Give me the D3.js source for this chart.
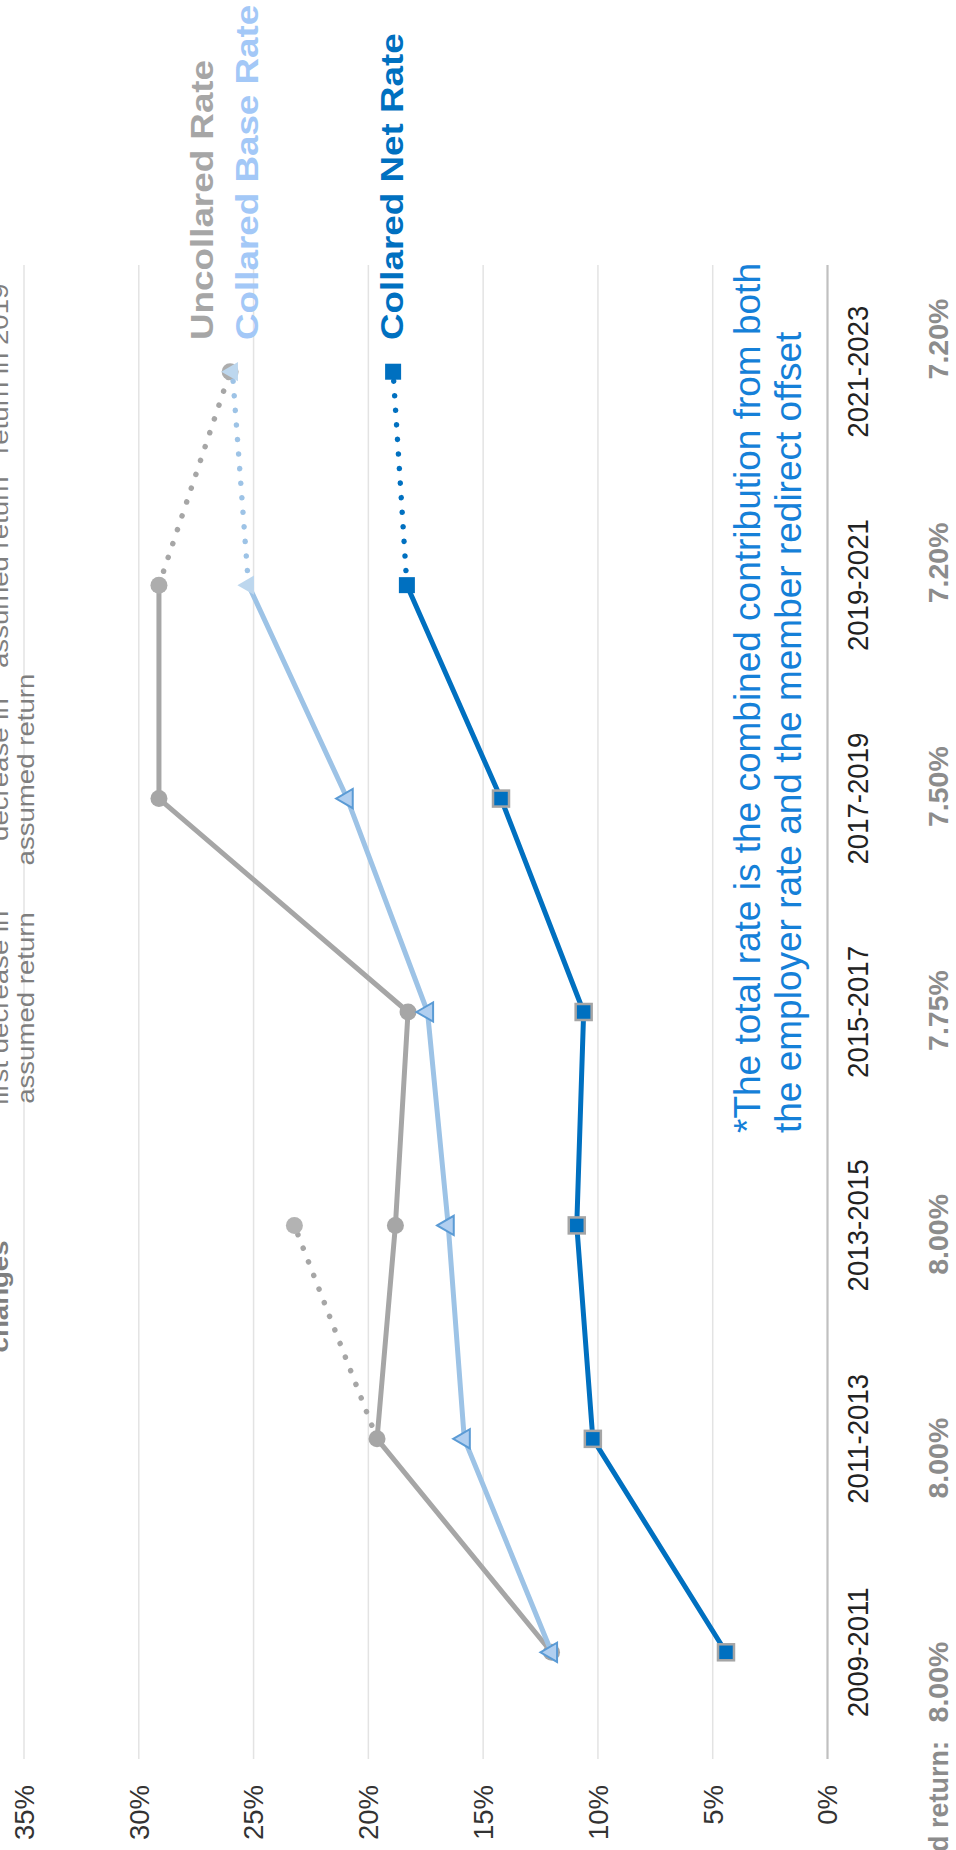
<!DOCTYPE html>
<html>
<head>
<meta charset="utf-8">
<script src="https://cdn.jsdelivr.net/npm/d3@7"></script>
<style>
  body { margin: 0; background: #fff; }
  svg { display: block; font-family: "Liberation Sans", Arial, sans-serif; }
</style>
</head>
<body>
<div id="chart"></div>
<script>

var periods = ["2009-2011", "2011-2013", "2013-2015", "2015-2017", "2017-2019", "2019-2021", "2021-2023"];
var uncollared   = [12.0, 19.6, 18.8, 18.25, 29.1, 29.1, 26.0];
var collaredBase = [12.0, 15.8, 16.5, 17.4, 20.9, 25.2, 25.9];
var collaredNet  = [4.4, 10.2, 10.9, 10.6, 14.2, 18.3, 18.9];
var altPeriods = ["2011-2013", "2013-2015"];
var uncollaredAlt = [19.6, 23.2];
var assumedReturn = ["8.00%", "8.00%", "8.00%", "7.75%", "7.50%", "7.20%", "7.20%"];
var yTicks = [0, 5, 10, 15, 20, 25, 30, 35];
var seriesNames = ["Uncollared Rate", "Collared Base Rate", "Collared Net Rate"];
var notePeriods = ["2013-2015", "2015-2017", "2017-2019", "2019-2021", "2021-2023"];
var noteLine1 = ["changes", "first decrease in", "decrease in", "assumed return", "return in 2019"];
var noteLine2 = ["", "assumed return", "assumed return", "", ""];
var footnote = ["*The total rate is the combined contribution from both",
                "the employer rate and the member redirect offset"];

// the chart is laid out landscape (W wide) and then turned a quarter turn
var W = 1850, H = 956;
var gray = "#a6a6a6", light = "#9dc3e6", dark = "#0070c0";

var svg = d3.select("#chart").append("svg")
    .attr("width", H)
    .attr("height", W);

var g = svg.append("g")
    .attr("transform", "translate(0," + W + ") rotate(-90)");

var x = d3.scaleBand().domain(periods).range([91, 1585]);
var cx = function(p) { return x(p) + x.bandwidth() / 2; };
var y = d3.scaleLinear().domain([0, 35]).range([827, 23.5]);
// the assumed return row is spaced a little wider than the plot
var xr = d3.scalePoint().domain(periods).range([168, 1511]);
var noteShift = [-71, 4, 29, 13, 3];

// grid + value labels
var yAxis = g.append("g")
    .attr("transform", "translate(91,0)")
    .call(d3.axisLeft(y).tickValues(yTicks).tickSize(-(1585 - 91)).tickPadding(26)
      .tickFormat(function(d) { return d + "%"; }));
yAxis.select(".domain").remove();
yAxis.selectAll("line")
    .attr("stroke", function(d) { return d === 0 ? "#c0c0c0" : "#e3e3e3"; })
    .attr("stroke-width", function(d) { return d === 0 ? 2.2 : 1.5; });
yAxis.selectAll("text")
    .style("font-size", "27.5px")
    .style("font-family", "Liberation Sans, Arial, sans-serif")
    .attr("fill", "#333")
    .attr("dy", "0.36em");

// period labels
var xAxis = g.append("g")
    .attr("transform", "translate(0,827)")
    .call(d3.axisBottom(x).tickSize(0));
xAxis.select(".domain").remove();
xAxis.selectAll("text")
    .style("font-size", "30px")
    .style("font-family", "Liberation Sans, Arial, sans-serif")
    .attr("fill", "#222")
    .attr("y", 41)
    .attr("dy", 0)
    .attr("transform", "scale(0.92,1)");

// assumed return row
g.append("text")
    .attr("x", 109).attr("y", 948)
    .attr("text-anchor", "end")
    .style("font-size", "27px").style("font-weight", "bold")
    .attr("fill", "#8c8c8c")
    .text("Assumed return:");

g.selectAll(".ret")
  .data(assumedReturn)
  .enter().append("text")
    .attr("class", "ret")
    .attr("x", function(d, i) { return xr(periods[i]); })
    .attr("y", 948)
    .attr("text-anchor", "middle")
    .style("font-size", "28.5px").style("font-weight", "bold")
    .attr("fill", "#8c8c8c")
    .text(function(d) { return d; });

// notes above the plot, mostly cut off by the page edge
var notes = g.selectAll(".note")
  .data(notePeriods)
  .enter().append("g")
    .attr("class", "note")
    .attr("transform", function(d, i) { return "translate(" + (cx(d) + noteShift[i]) + ",0) scale(1.2,1)"; });
notes.append("text")
    .attr("y", 8)
    .attr("text-anchor", "middle")
    .style("font-size", "23px")
    .style("font-weight", function(d, i) { return i === 0 ? "bold" : "normal"; })
    .attr("fill", "#7f7f7f")
    .text(function(d, i) { return noteLine1[i]; });
notes.append("text")
    .attr("y", 34)
    .attr("text-anchor", "middle")
    .style("font-size", "23px")
    .attr("fill", "#7f7f7f")
    .text(function(d, i) { return noteLine2[i]; });

function pts(vals, ps) {
  return vals.map(function(v, i) { return { p: (ps || periods)[i], v: v }; });
}

var line = d3.line()
    .x(function(d) { return cx(d.p); })
    .y(function(d) { return y(d.v); });

var tri = d3.symbol(d3.symbolTriangle, 160);

function solid(vals, color) {
  g.append("path")
      .datum(pts(vals).slice(0, 6))
      .attr("fill", "none")
      .attr("stroke", color)
      .attr("stroke-width", 5)
      .attr("stroke-linejoin", "round")
      .attr("d", line);
}

function dotted(data, color) {
  g.append("path")
      .datum(data)
      .attr("fill", "none")
      .attr("stroke", color)
      .attr("stroke-width", 5.5)
      .attr("stroke-linecap", "round")
      .attr("stroke-dasharray", "0.1,14.5")
      .attr("d", line);
}

function circles(data, fill) {
  g.selectAll(null).data(data).enter().append("circle")
      .attr("cx", function(d) { return cx(d.p); })
      .attr("cy", function(d) { return y(d.v); })
      .attr("r", 8.5)
      .attr("fill", fill);
}

function triangles(data, fill, stroke) {
  g.selectAll(null).data(data).enter().append("path")
      .attr("d", tri)
      .attr("transform", function(d) { return "translate(" + cx(d.p) + "," + y(d.v) + ")"; })
      .attr("fill", fill)
      .attr("stroke", stroke)
      .attr("stroke-width", stroke === "none" ? 0 : 2);
}

function squares(data, stroke) {
  g.selectAll(null).data(data).enter().append("rect")
      .attr("x", function(d) { return cx(d.p) - 8; })
      .attr("y", function(d) { return y(d.v) - 8; })
      .attr("width", 16).attr("height", 16)
      .attr("fill", dark)
      .attr("stroke", stroke)
      .attr("stroke-width", stroke === "none" ? 0 : 2.5);
}

// uncollared
solid(uncollared, gray);
dotted(pts(uncollaredAlt, altPeriods), gray);
circles(pts(uncollared).slice(0, 5), gray);
circles(pts(uncollaredAlt, altPeriods).slice(1), "#b3b3b3");
dotted(pts(uncollared).slice(5), gray);
circles(pts(uncollared).slice(5), "#adadad");

// collared base
solid(collaredBase, light);
triangles(pts(collaredBase).slice(0, 5), "#b1cff0", "#5b9bd5");
dotted(pts(collaredBase).slice(5), light);
triangles(pts(collaredBase).slice(5), "#bdd7ee", "none");

// collared net
solid(collaredNet, dark);
squares(pts(collaredNet).slice(0, 5), "#a5a5a5");
dotted(pts(collaredNet).slice(5), dark);
squares(pts(collaredNet).slice(5), "none");

// series names at the end of each line
var nameY = [213, 258, 403];
var nameColor = ["#a6a6a6", "#a3c8f7", "#0070c0"];
g.selectAll(".sname")
  .data(seriesNames)
  .enter().append("text")
    .attr("class", "sname")
    .attr("transform", function(d, i) { return "translate(1510," + nameY[i] + ") scale(1.15,1)"; })
    .style("font-size", "32px").style("font-weight", "bold")
    .attr("fill", function(d, i) { return nameColor[i]; })
    .text(function(d) { return d; });

// footnote
g.selectAll(".foot")
  .data(footnote)
  .enter().append("text")
    .attr("class", "foot")
    .attr("x", 717)
    .attr("y", function(d, i) { return 760 + i * 41; })
    .style("font-size", "37px")
    .attr("fill", "#1580d8")
    .text(function(d) { return d; });

</script>
</body>
</html>
